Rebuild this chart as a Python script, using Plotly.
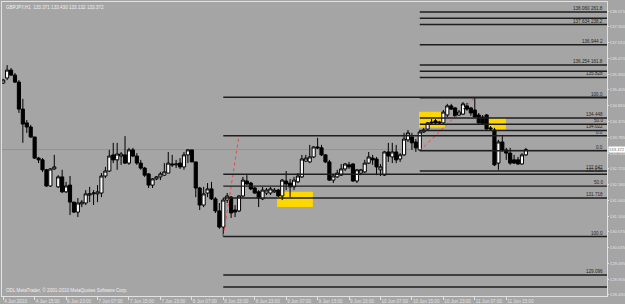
import plotly.graph_objects as go

# ---------------- data (GBPJPY H1) ----------------
tick_labels = ["4 Jun 2010", "4 Jun 15:00", "6 Jun 23:00", "7 Jun 07:00", "7 Jun 15:00",
               "7 Jun 23:00", "8 Jun 07:00", "8 Jun 15:00", "8 Jun 23:00", "9 Jun 07:00",
               "9 Jun 15:00", "9 Jun 23:00", "10 Jun 07:00", "10 Jun 15:00", "10 Jun 23:00",
               "11 Jun 07:00", "11 Jun 15:00"]

open_ = [
    135.64, 135.81, 136.08, 135.91, 135.67, 134.75, 134.28, 134.14, 133.80, 133.08,
    133.02, 132.68, 132.13, 132.71, 132.10, 132.44, 131.93, 132.16, 131.58, 131.24,
    131.52, 131.55, 131.82, 131.86, 131.86, 131.89, 132.47, 132.64, 133.19, 133.02,
    133.15, 133.19, 132.91, 133.36, 133.15, 132.91, 132.74, 132.54, 132.16, 132.37,
    132.44, 132.50, 132.57, 132.88, 132.85, 132.91, 132.78, 133.19, 133.36, 132.95,
    132.06, 131.48, 131.89, 132.03, 131.69, 131.28, 130.73, 131.65, 131.75, 131.31,
    131.28, 131.79, 132.30, 132.23, 132.06, 131.93, 131.69, 131.89, 131.89, 131.93,
    131.99, 131.79, 132.30, 132.23, 132.10, 132.27, 132.44, 132.98, 132.95, 133.12,
    133.46, 133.43, 133.19, 132.95, 132.33, 132.44, 132.50, 132.71, 132.85, 132.88,
    132.30, 132.57, 132.61, 132.91, 133.08, 133.05, 132.68, 132.50, 133.29, 133.12,
    133.29, 133.05, 133.19, 133.70, 133.80, 133.63, 133.36, 133.97, 134.07, 134.31,
    134.35, 134.31, 134.28, 134.55, 134.86, 134.79, 134.55, 134.58, 134.86, 134.79,
    134.72, 134.55, 134.48, 134.55, 134.11, 134.04, 132.91, 133.63, 133.36, 133.25,
    133.02, 133.02, 132.88, 133.19]

high = [
    135.78, 136.25, 136.15, 135.98, 135.74, 135.10, 134.38, 134.21, 133.80, 133.12,
    133.08, 132.71, 132.74, 133.19, 132.50, 132.68, 132.27, 132.47, 131.58, 131.72,
    131.65, 131.99, 132.10, 131.99, 132.16, 132.57, 132.78, 133.36, 133.60, 133.60,
    133.29, 133.83, 133.43, 133.43, 133.25, 133.02, 132.78, 132.57, 132.40, 132.47,
    132.61, 132.91, 133.29, 133.19, 133.02, 133.08, 133.29, 133.39, 133.36, 132.95,
    132.10, 132.10, 132.23, 132.27, 131.75, 131.55, 131.72, 131.89, 131.79, 131.48,
    131.82, 132.44, 132.50, 132.27, 132.10, 131.99, 132.10, 132.06, 132.10, 132.06,
    132.03, 132.37, 132.64, 132.37, 132.44, 132.57, 133.19, 133.19, 133.53, 133.49,
    133.77, 133.53, 133.22, 133.02, 132.50, 132.68, 132.88, 132.91, 132.95, 132.91,
    132.71, 132.71, 133.02, 133.29, 133.19, 133.12, 132.88, 133.32, 133.60, 133.60,
    133.53, 133.25, 133.94, 134.04, 133.94, 133.73, 134.04, 134.11, 134.31, 134.41,
    134.41, 134.35, 134.72, 134.93, 134.93, 134.82, 134.72, 134.99, 134.96, 134.82,
    135.14, 134.62, 134.55, 134.58, 134.17, 134.11, 133.70, 133.87, 133.43, 133.43,
    133.19, 133.12, 133.25, 133.43]

low = [
    135.61, 135.74, 135.88, 135.64, 134.62, 133.60, 133.94, 133.77, 133.05, 132.91,
    132.61, 132.10, 132.10, 132.68, 132.06, 131.89, 131.89, 131.14, 131.21, 131.07,
    131.41, 131.48, 131.58, 131.48, 131.58, 131.75, 132.40, 132.61, 132.91, 132.68,
    132.85, 132.88, 132.85, 133.12, 132.85, 132.68, 132.44, 132.06, 132.06, 132.33,
    132.33, 132.47, 132.57, 132.78, 132.74, 132.71, 132.68, 132.91, 132.95, 131.75,
    131.31, 131.41, 131.75, 131.65, 131.21, 130.67, 130.406, 131.55, 131.04, 131.07,
    131.24, 131.75, 132.16, 131.99, 131.86, 131.41, 131.65, 131.82, 131.82, 131.89,
    131.75, 131.65, 131.99, 131.75, 131.99, 132.23, 132.40, 132.95, 132.91, 133.08,
    133.39, 133.15, 132.91, 132.30, 132.23, 132.40, 132.47, 132.64, 132.71, 132.27,
    132.23, 132.50, 132.57, 132.88, 132.85, 132.50, 132.47, 132.47, 132.95, 132.91,
    132.91, 132.95, 133.15, 133.63, 133.36, 133.29, 133.332, 133.94, 134.04, 134.21,
    134.21, 134.21, 134.21, 134.48, 134.72, 134.48, 134.52, 134.55, 134.69, 134.52,
    134.48, 134.24, 134.21, 134.04, 134.04, 132.81, 132.68, 133.29, 133.02, 132.85,
    132.88, 132.85, 132.85, 133.15]

close = [
    135.74, 136.08, 135.91, 135.67, 134.75, 134.24, 134.14, 133.80, 133.08, 133.02,
    132.68, 132.13, 132.71, 132.78, 132.44, 131.93, 132.13, 131.58, 131.24, 131.55,
    131.58, 131.86, 131.86, 131.89, 131.93, 132.47, 132.64, 133.15, 133.02, 133.22,
    133.22, 132.91, 133.36, 133.15, 132.91, 132.74, 132.50, 132.16, 132.37, 132.44,
    132.54, 132.61, 132.91, 132.85, 132.88, 132.78, 133.19, 133.36, 132.95, 132.06,
    131.48, 131.86, 132.03, 131.69, 131.28, 130.73, 131.65, 131.79, 131.21, 131.24,
    131.79, 132.33, 132.20, 132.03, 131.89, 131.72, 131.99, 131.99, 132.03, 131.99,
    131.79, 132.33, 132.20, 132.10, 132.33, 132.47, 133.05, 133.08, 133.12, 133.46,
    133.43, 133.19, 132.95, 132.33, 132.47, 132.57, 132.71, 132.88, 132.78, 132.30,
    132.68, 132.68, 132.91, 133.12, 133.02, 132.78, 132.78, 133.29, 133.15, 133.29,
    133.02, 133.19, 133.73, 133.94, 133.60, 133.43, 133.97, 134.04, 134.28, 134.28,
    134.28, 134.28, 134.65, 134.86, 134.75, 134.52, 134.65, 134.93, 134.75, 134.62,
    134.48, 134.28, 134.24, 134.07, 134.07, 132.85, 133.63, 133.36, 133.25, 132.91,
    132.91, 132.88, 133.19, 133.372]

price_ticks = [138.075, 137.550, 137.010, 136.470, 135.930, 135.405, 134.865, 134.325,
               133.785, 133.245, 132.720, 132.180, 131.640, 131.100, 130.575, 130.035,
               129.495, 128.955, 128.430]

# Fibonacci object 1 (anchored at bar 56 -> bar 60)
fib1_start_bar = 56
fib1_anchor_bars = [56, 60]
fib1_anchor_prices = [130.406, 133.842]
fib1_prices = [135.154, 133.842, 132.529, 132.124, 131.718, 130.406, 129.096, 128.688, 128.283]
fib1_labels = ["", "0.0", "132.529", "50.0", "131.718", "100.0", "129.096", "", "128.283 161.8"]

# Fibonacci object 2 (anchored at bar 106 -> bar 120)
fib2_start_bar = 106
fib2_anchor_bars = [106, 120]
fib2_anchor_prices = [133.332, 135.138]
fib2_prices = [138.060, 137.847, 137.634, 136.944, 136.254, 136.041, 135.828, 135.138,
               134.448, 134.235, 134.022, 133.332, 132.642]
fib2_labels = ["138.060 261.8", "", "137.634 238.2", "136.944 2", "136.254 161.8", "",
               "135.828", "100.0", "134.448", "50.0", "134.022", "0.0", "132.642"]

# yellow rectangles: (bar from, bar to, price low, price high)
rect_bar0 = [69.7, 105.8, 122.8]
rect_bar1 = [78.8, 112.4, 127.9]
rect_p0 = [131.41, 134.12, 134.05]
rect_p1 = [131.93, 134.66, 134.448]

last_price = 133.372
header = "GBPJPY,H1  133.371 133.430 133.132 133.372"
footer = "ODL MetaTrader, \u00a9 2001-2010 MetaQuotes Software Corp."

# ---------------- figure ----------------
X_MIN, X_MAX = -0.305, 153.64
Y_MIN, Y_MAX = 128.380, 138.401
BG = "#a5a5a5"
AX = "#e2e2e2"
FONT = "Liberation Sans"
FS = 4.6
FS_AX = 4.2

bars = list(range(len(close)))

fig = go.Figure()
fig.add_trace(go.Candlestick(
    x=bars, open=open_, high=high, low=low, close=close,
    increasing=dict(fillcolor="#ffffff", line=dict(color="#000000", width=1)),
    decreasing=dict(fillcolor="#000000", line=dict(color="#000000", width=1)),
    whiskerwidth=0, showlegend=False, hoverinfo="skip"))

shapes = []
shapes.append(dict(type="line", xref="x", yref="y", x0=X_MIN, x1=X_MAX,
                   y0=last_price, y1=last_price, line=dict(color="#8d93a0", width=1), layer="below"))
for b0, b1, p0, p1 in zip(rect_bar0, rect_bar1, rect_p0, rect_p1):
    shapes.append(dict(type="rect", xref="x", yref="y", x0=b0, x1=b1, y0=p0, y1=p1,
                       fillcolor="#ffd700", line=dict(width=0), layer="below"))

annotations = []
for start, prices, labels in [(fib1_start_bar, fib1_prices, fib1_labels),
                              (fib2_start_bar, fib2_prices, fib2_labels)]:
    for p, lab in zip(prices, labels):
        shapes.append(dict(type="line", xref="x", yref="y", x0=start, x1=X_MAX, y0=p, y1=p,
                           line=dict(color="#1e1e1e", width=1.4), layer="above"))
        if lab:
            annotations.append(dict(x=X_MAX - 0.4, y=p, xref="x", yref="y", text=lab,
                                    showarrow=False, xanchor="right", yanchor="bottom",
                                    yshift=-1, font=dict(family=FONT, size=FS, color="#262626")))

for bx, py in [(fib1_anchor_bars, fib1_anchor_prices), (fib2_anchor_bars, fib2_anchor_prices)]:
    fig.add_trace(go.Scatter(x=bx, y=py, mode="lines", line=dict(color="#e84848", width=1, dash="dot"),
                             showlegend=False, hoverinfo="skip"))

annotations.append(dict(x=0.003, y=1, xref="paper", yref="paper", text=header, showarrow=False,
                        xanchor="left", yanchor="top", yshift=-1,
                        font=dict(family=FONT, size=FS, color="#f0f0f0")))
annotations.append(dict(x=0.003, y=0, xref="paper", yref="paper", text=footer, showarrow=False,
                        xanchor="left", yanchor="bottom", yshift=1,
                        font=dict(family=FONT, size=FS, color="#f0f0f0")))
annotations.append(dict(x=1, y=last_price, xref="paper", yref="y", text="133.372",
                        showarrow=False, xanchor="left", yanchor="middle", xshift=1,
                        bgcolor="#ffffff", borderpad=0,
                        font=dict(family=FONT, size=FS_AX, color="#707070")))

fig.update_layout(
    width=625, height=304,
    margin=dict(l=2, r=18, t=2, b=8, autoexpand=False),
    paper_bgcolor=BG, plot_bgcolor=BG,
    shapes=shapes, annotations=annotations,
    boxgap=0.2, boxgroupgap=0,
    showlegend=False,
    font=dict(family=FONT, size=FS, color=AX),
    xaxis=dict(range=[X_MIN, X_MAX], rangeslider=dict(visible=False), showgrid=False,
               zeroline=False, tickmode="array", tickvals=[8 * i for i in range(len(tick_labels))],
               ticktext=tick_labels, ticks="outside", ticklen=3, tickcolor=AX, tickangle=0,
               automargin=False, ticklabelposition="outside right", showline=True,
               linecolor=AX, linewidth=1, mirror=True,
               tickfont=dict(family=FONT, size=FS, color=AX)),
    yaxis=dict(range=[Y_MIN, Y_MAX], side="right", showgrid=False, zeroline=False,
               tickmode="array", tickvals=price_ticks, ticktext=[f"{v:.3f}" for v in price_ticks],
               ticks="outside", ticklen=1, tickcolor=AX, showline=True, linecolor=AX,
               automargin=False, linewidth=1, mirror=True,
               tickfont=dict(family=FONT, size=FS_AX, color=AX)),
)

fig.write_html("out.html")
